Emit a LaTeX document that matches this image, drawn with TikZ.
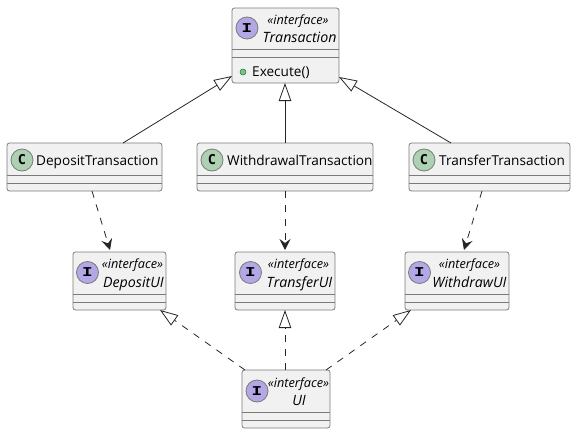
\documentclass[tikz,border=0pt]{standalone}
\usepackage{fontspec}
\setmainfont{Open Sans}
\newfontfamily\markfont{DejaVu Sans Mono}
\newfontfamily\ifacefont{Liberation Mono}
\usetikzlibrary{positioning,calc,arrows.meta}
\definecolor{boxfill}{HTML}{F1F1F1}
\definecolor{boxline}{HTML}{7A7A7A}
\definecolor{ifacemark}{HTML}{B4A7E5}
\definecolor{classmark}{HTML}{ADD1B2}
\definecolor{dotfill}{HTML}{84BE84}
\definecolor{dotline}{HTML}{038048}
\begin{document}
\begin{tikzpicture}[x=1pt,y=-1pt,
				umlbox/.style={draw=boxline,fill=boxfill,rectangle,rounded corners=2.5pt,line width=0.8pt,inner sep=0pt,outer sep=0pt,anchor=north west},
				divider/.style={draw=boxline,line width=0.8pt},
				ifacecircle/.style={draw=boxline,fill=ifacemark,circle,minimum size=22pt,inner sep=0pt,line width=0.8pt},
				classcircle/.style={draw=boxline,fill=classmark,circle,minimum size=22pt,inner sep=0pt,line width=0.8pt},
				stereo/.style={font=\fontsize{12.7}{14}\selectfont\itshape,inner sep=0pt,anchor=base},
				ifacename/.style={font=\fontsize{14.2}{16}\selectfont\itshape,inner sep=0pt,anchor=base},
				classname/.style={font=\fontsize{13.6}{16}\selectfont,inner sep=0pt,anchor=base west},
				cletter/.style={font=\fontsize{13.5}{16}\selectfont\markfont\bfseries,inner sep=0pt},
				iletter/.style={font=\fontsize{13.5}{16}\selectfont\ifacefont\bfseries,inner sep=0pt,xscale=1.3,transform shape},
				inherit/.style={-{Triangle[open,length=18pt,width=12.5pt,fill=white]},draw=black!85,line width=0.8pt},
				realize/.style={inherit,dash pattern=on 7pt off 7pt},
				depend/.style={-{Stealth[length=11pt,width=11pt,inset=4pt]},draw=black!85,line width=0.8pt,dash pattern=on 7pt off 7pt}]
				\useasboundingbox (0,0) rectangle (576,434);

				% boxes
				\node (Transaction) [umlbox,minimum width=107pt,minimum height=75pt] at (232,8)   {};
				\node (Deposit)     [umlbox,minimum width=155pt,minimum height=48pt] at (7,143)   {};
				\node (Withdrawal)  [umlbox,minimum width=176pt,minimum height=48pt] at (197,143) {};
				\node (Transfer)    [umlbox,minimum width=161pt,minimum height=48pt] at (409,143) {};
				\node (DepositUI)   [umlbox,minimum width=93pt,minimum height=58pt]  at (73,252)  {};
				\node (TransferUI)  [umlbox,minimum width=100pt,minimum height=58pt] at (235,252) {};
				\node (WithdrawUI)  [umlbox,minimum width=104pt,minimum height=58pt] at (405,252) {};
				\node (UI)          [umlbox,minimum width=88pt,minimum height=58pt]  at (242,370) {};

				\foreach \boxname in {Deposit,Withdrawal,Transfer,DepositUI,TransferUI,WithdrawUI,UI}
				\draw[divider] ([yshift=16pt]\boxname.south west) -- ([yshift=16pt]\boxname.south east)
					([yshift=8pt]\boxname.south west) -- ([yshift=8pt]\boxname.south east);
				\draw[divider] ([yshift=33.5pt]Transaction.south west) -- ([yshift=33.5pt]Transaction.south east)
					([yshift=26pt]Transaction.south west) -- ([yshift=26pt]Transaction.south east);

				% interfaces
				\node (TransactionMark) [ifacecircle] at (247,28)  {};
				\node (DepositUIMark)   [ifacecircle] at (87.5,272.5)  {};
				\node (TransferUIMark)  [ifacecircle] at (250.5,272.5) {};
				\node (WithdrawUIMark)  [ifacecircle] at (419.5,272.5) {};
				\node (UIMark)          [ifacecircle] at (257,391) {};
				\foreach \boxname in {Transaction,DepositUI,TransferUI,WithdrawUI,UI}
				\node (\boxname Letter) [iletter] at (\boxname Mark) {I};

				\node (TransactionTag)  [stereo] at (298,24)  {«interface»};
				\node (TransactionName) [ifacename] at (299.5,42) {Transaction};
				\node (DepositUITag)    [stereo] at (132.5,268.5) {«interface»};
				\node (DepositUIName)   [ifacename] at (133.5,287) {DepositUI};
				\node (TransferUITag)   [stereo] at (298.5,268.5) {«interface»};
				\node (TransferUIName)  [ifacename] at (299.5,287) {TransferUI};
				\node (WithdrawUITag)   [stereo] at (469.5,268.5) {«interface»};
				\node (WithdrawUIName)  [ifacename] at (469.5,287) {WithdrawUI};
				\node (UITag)           [stereo] at (298.5,387) {«interface»};
				\node (UIName)          [ifacename] at (299,405) {UI};

				% classes
				\node (DepositMark)    [classcircle] at (22,160)  {};
				\node (WithdrawalMark) [classcircle] at (212,160) {};
				\node (TransferMark)   [classcircle] at (424,160) {};
				\foreach \boxname in {Deposit,Withdrawal,Transfer}
				\node (\boxname Letter) [cletter] at (\boxname Mark) {C};

				\node (DepositName)    [classname] at (36,165)  {DepositTransaction};
				\node (WithdrawalName) [classname] at (227,165) {WithdrawalTransaction};
				\node (TransferName)   [classname] at (439,165) {TransferTransaction};

				% method
				\node (ExecuteDot)  [draw=dotline,fill=dotfill,circle,minimum size=6pt,inner sep=0pt,line width=0.5pt] at (243,72) {};
				\node (ExecuteName) [classname] at (252,76) {Execute()};

				% connectors
				\draw[inherit] ([xshift=38.5pt]Deposit.north) -- ([yshift=7pt]Transaction.south west);
				\draw[inherit] (Withdrawal.north) -- ([xshift=-0.5pt]Transaction.south);
				\draw[inherit] ([xshift=-38.5pt]Transfer.north) -- ([yshift=6pt]Transaction.south east);

				\draw[depend] ([xshift=7.5pt]Deposit.south) -- ([xshift=-9.5pt,yshift=2pt]DepositUI.north);
				\draw[depend] (Withdrawal.south) -- ([yshift=2pt]TransferUI.north);
				\draw[depend] ([xshift=-7.5pt]Transfer.south) -- ([xshift=7pt,yshift=2pt]WithdrawUI.north);

				\draw[realize] ([xshift=3pt]UI.north west) -- ([xshift=-6pt]DepositUI.south east);
				\draw[realize] ([xshift=-1pt]UI.north) -- (TransferUI.south);
				\draw[realize] ([xshift=-4pt]UI.north east) -- ([xshift=6pt]WithdrawUI.south west);
\end{tikzpicture}
\end{document}
